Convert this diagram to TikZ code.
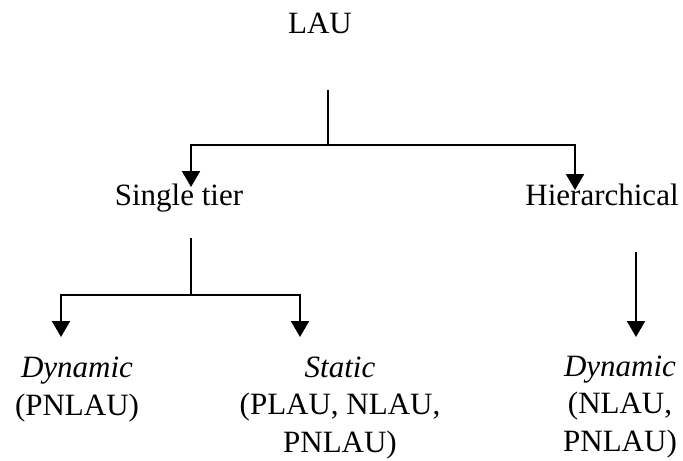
\documentclass[tikz,border=0pt]{standalone}
\usepackage{fontspec}
\setmainfont{Liberation Serif}
\usetikzlibrary{arrows.meta}
\tikzset{
	leaf/.style = {inner sep = 0pt, anchor = base, align = center, font = \fontsize{15.5}{18.75}\selectfont},
	arr/.style = {-{Triangle[length = 8pt, width = 9pt]}},
}

\begin{document}
\begin{tikzpicture}[x = 0.5pt, y = -0.5pt, line width = 1pt]

		\useasboundingbox (0,0) rectangle (683,460);

		\node[leaf] (lau) at (320,34) {LAU};
		\node[leaf] (single) at (179,205) {Single tier};
		\node[leaf] (hier) at (602,205) {Hierarchical};

		% base of a multi-line node is its last line
		\node[leaf] (dyn_1) at (77,415) {\textit{Dynamic}\\(PNLAU)};
		\node[leaf] (static) at (340,452) {\textit{Static}\\(PLAU, NLAU,\\PNLAU)};
		\node[leaf] (dyn_2) at (620,451) {\textit{Dynamic}\\(NLAU,\\PNLAU)};

		\coordinate (lau_top) at (328,90);
		\coordinate (lau_fork) at (328,145);
		\coordinate (single_in) at (191,187);
		\coordinate (hier_in) at (575,190);

		\coordinate (single_top) at (191,238);
		\coordinate (single_fork) at (191,295);
		\coordinate (dyn_1_in) at (61,337);
		\coordinate (static_in) at (300,337);

		\coordinate (hier_top) at (636,252);
		\coordinate (dyn_2_in) at (636,337);

		\draw (lau_top) -- (lau_fork);
		\draw[arr] (lau_fork) -| (single_in);
		\draw[arr] (lau_fork) -| (hier_in);

		\draw (single_top) -- (single_fork);
		\draw[arr] (single_fork) -| (dyn_1_in);
		\draw[arr] (single_fork) -| (static_in);

		\draw[arr] (hier_top) -- (dyn_2_in);
	\end{tikzpicture}
\end{document}
